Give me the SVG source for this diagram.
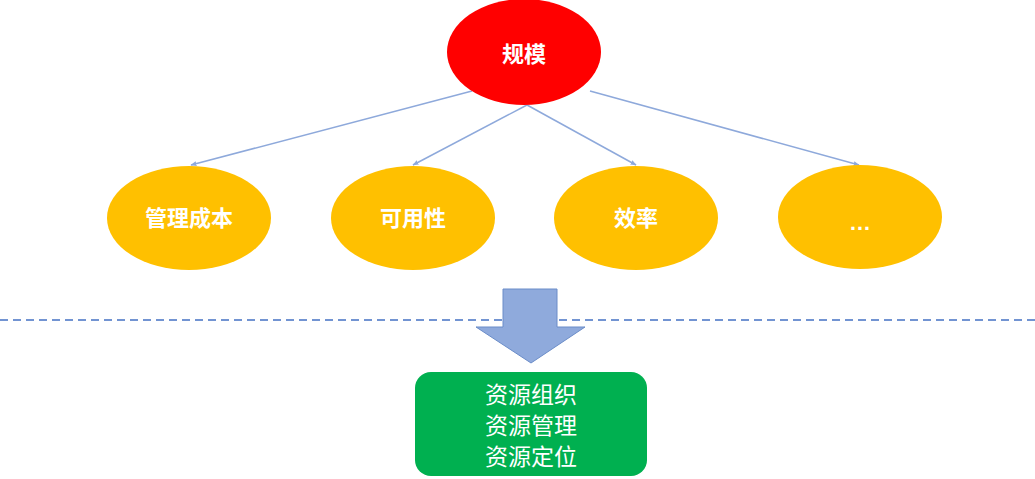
<svg xmlns="http://www.w3.org/2000/svg" width="1035" height="479" viewBox="0 0 1035 479">
<defs>
<style>
.lbl{font-family:"Liberation Sans","Noto Sans CJK SC",sans-serif;font-weight:bold;font-size:22px;fill:#fff;text-anchor:middle;dominant-baseline:central}
.ylw{fill:#FFC000}
.con{stroke:#8EA9DB;stroke-width:1.5;fill:none;marker-end:url(#ah)}
.box{font-family:"Liberation Sans","Noto Sans CJK SC",sans-serif;font-size:23px;fill:#fff;text-anchor:middle;dominant-baseline:central}
</style>
<marker id="ah" viewBox="0 0 10 10" refX="9" refY="5" markerWidth="6" markerHeight="6" orient="auto" markerUnits="userSpaceOnUse">
<path d="M0,1 L10,5 L0,9 z" fill="#8EA9DB"/>
</marker>
</defs>
<rect width="1035" height="479" fill="#fff"/>
<g id="connectors">
<line class="con" x1="472" y1="91" x2="191" y2="165"/>
<line class="con" x1="527" y1="105" x2="413" y2="165"/>
<line class="con" x1="527" y1="105" x2="636" y2="165"/>
<line class="con" x1="590" y1="91" x2="859" y2="165"/>
</g>
<line id="divider" x1="0" y1="320" x2="1035" y2="320" stroke="#4472C4" stroke-width="1.5" stroke-dasharray="8,5"/>
<g id="n-scale">
<ellipse cx="524" cy="52" rx="77" ry="53" fill="#FF0000"/>
<text class="lbl" x="524" y="54">规模</text>
</g>
<g id="n-cost">
<ellipse class="ylw" cx="189" cy="218" rx="82" ry="52"/>
<text class="lbl" x="189" y="218">管理成本</text>
</g>
<g id="n-avail">
<ellipse class="ylw" cx="413" cy="218" rx="82" ry="52"/>
<text class="lbl" x="413" y="218">可用性</text>
</g>
<g id="n-eff">
<ellipse class="ylw" cx="636" cy="218" rx="82" ry="52"/>
<text class="lbl" x="636" y="218">效率</text>
</g>
<g id="n-more">
<ellipse class="ylw" cx="860" cy="217" rx="82" ry="52"/>
<text class="lbl" x="860" y="222">…</text>
</g>
<g id="block-arrow">
<path d="M503,289 L557,289 L557,327 L585,327 L531,363 L476,327 L503,327 Z" fill="#8FAADC" stroke="#6A8CC8" stroke-width="1"/>
</g>
<g id="n-resource">
<rect x="415" y="372" width="232" height="104" rx="16" ry="16" fill="#00B050"/>
<text class="box" x="531" y="395">资源组织</text>
<text class="box" x="531" y="426">资源管理</text>
<text class="box" x="531" y="457">资源定位</text>
</g>
</svg>
